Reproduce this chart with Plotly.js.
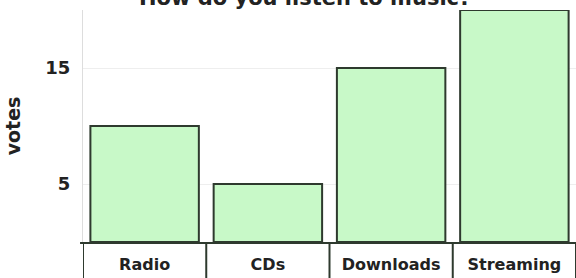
<!DOCTYPE html>
<html><head><meta charset="utf-8">
<script src="https://cdn.plot.ly/plotly-3.0.1.min.js"></script>
<style>html,body{margin:0;padding:0;background:#fff;}#chart{width:576px;height:278px;}</style>
</head><body><div id="chart"></div>
<script>
var categories = ['Radio', 'CDs', 'Downloads', 'Streaming'];
var votes = [10, 5, 15, 20];
var yTickVals = [5, 15, 20];
var yTickText = ['5', '15', ''];
var titleText = 'How do you listen to music?';
var yTitle = 'votes';

var lineCol = '#2e3a2e';
var shapes = [];
// label row: top line and dividers at category boundaries
shapes.push({type:'line', xref:'paper', yref:'paper', x0:-0.006, x1:1, y0:-0.004, y1:-0.004, line:{color:lineCol, width:2}});
for (var i = 0; i <= categories.length; i++) {
  shapes.push({type:'line', xref:'x', yref:'paper', x0:i-0.5, x1:i-0.5, y0:-0.004, y1:-0.25, line:{color:lineCol, width:2}});
}

var trace = {
  type:'bar', x:categories, y:votes,
  marker:{color:'#c8f9c8', line:{color:lineCol, width:2}},
  hoverinfo:'none'
};
var layout = {
  width:576, height:278,
  margin:{l:83, r:0, t:10, b:36, pad:0},
  paper_bgcolor:'#fff', plot_bgcolor:'#fff',
  bargap:0.12,
  showlegend:false,
  font:{family:'DejaVu Sans', color:'#222'},
  annotations:[{text:'<b>'+titleText+'</b>', xref:'paper', yref:'paper', x:0.45, y:1, xanchor:'center', yanchor:'bottom', yshift:-2, showarrow:false, font:{size:21, family:'DejaVu Sans', color:'#222'}}],
  xaxis:{type:'category', showgrid:false, zeroline:false, showline:false, ticks:'', tickfont:{size:16, family:'DejaVu Sans', color:'#222', weight:'bold'}, ticklabelstandoff:11, range:[-0.5,3.5], fixedrange:true},
  yaxis:{range:[0,20], tickvals:yTickVals, ticktext:yTickText, showgrid:true, gridcolor:'#eeeeee', gridwidth:1, zeroline:false, showline:true, linecolor:'#dddddd', linewidth:1, ticks:'', tickfont:{size:18, family:'DejaVu Sans', color:'#222', weight:'bold'}, ticklabelstandoff:8,
    title:{text:'<b>'+yTitle+'</b>', font:{size:19, family:'DejaVu Sans', color:'#222'}, standoff:19}},
  shapes:shapes
};
Plotly.newPlot('chart', [trace], layout, {displayModeBar:false, staticPlot:true});
</script></body></html>
